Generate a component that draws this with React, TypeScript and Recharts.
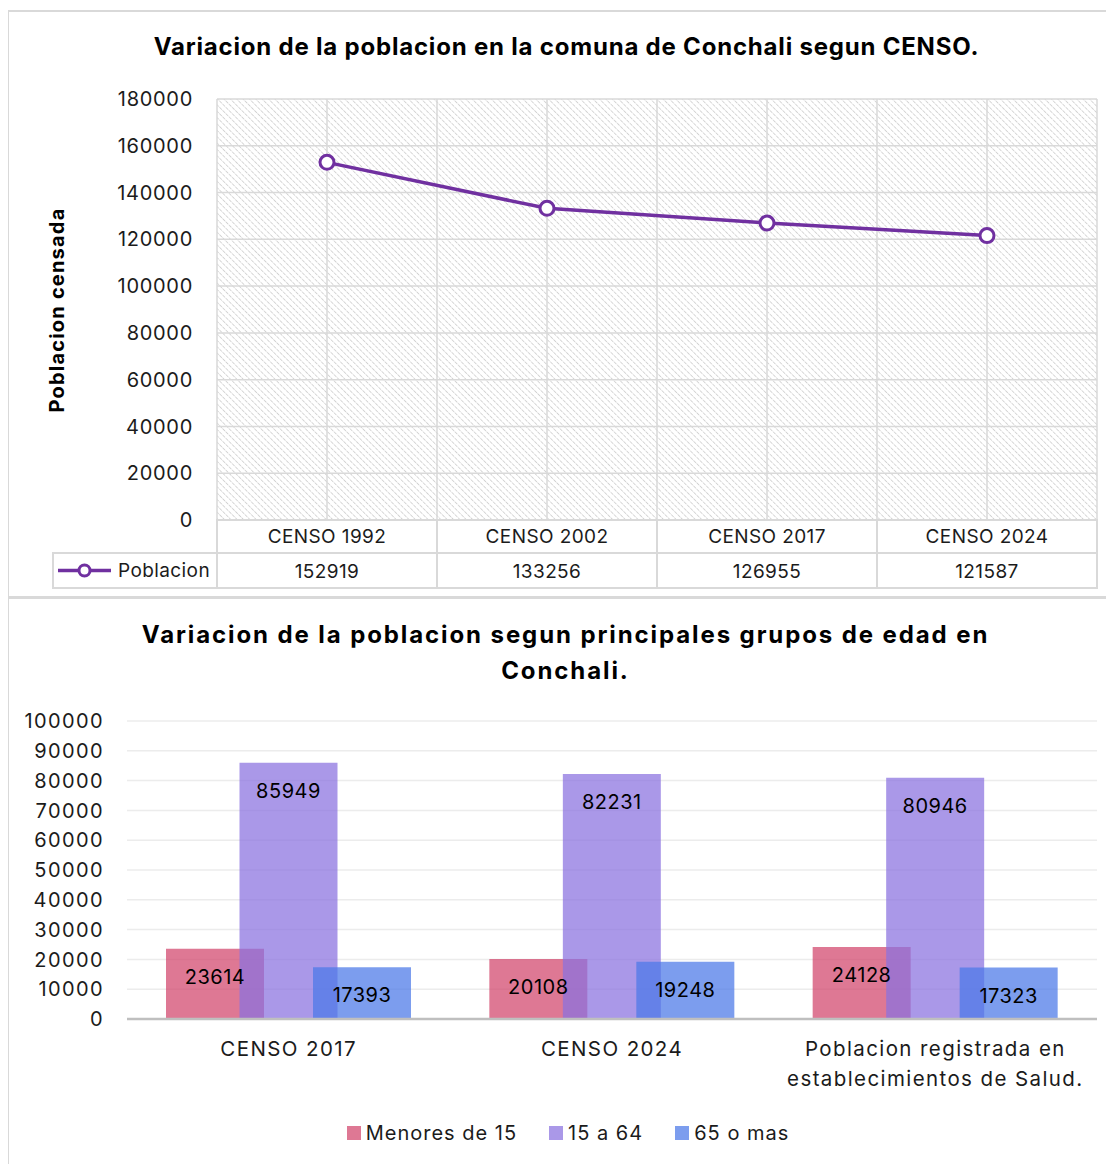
import React from 'react';
import { LineChart, Line, XAxis, YAxis, CartesianGrid, BarChart, Bar, LabelList, Legend } from 'recharts';

// top chart: census totals
const censusLabels = ['CENSO 1992', 'CENSO 2002', 'CENSO 2017', 'CENSO 2024'];
const populationValues = [152919, 133256, 126955, 121587];
const populationTicks = [0, 20000, 40000, 60000, 80000, 100000, 120000, 140000, 160000, 180000];

// bottom chart: age groups
const groupCategories = ['CENSO 2017', 'CENSO 2024', 'Poblacion registrada en establecimientos de Salud.'];
const under15 = [23614, 20108, 24128];
const age15to64 = [85949, 82231, 80946];
const over65 = [17393, 19248, 17323];
const groupTicks = [0, 10000, 20000, 30000, 40000, 50000, 60000, 70000, 80000, 90000, 100000];
const groupSeries = [
  { key: 'under15', name: 'Menores de 15', color: '#D2466C' },
  { key: 'adults', name: '15 a 64', color: '#8A72DF' },
  { key: 'over65', name: '65 o mas', color: '#4B78E8' },
];

const lineData = censusLabels.map((label, i) => ({ label, value: populationValues[i] }));
const barData = groupCategories.map((name, i) => ({
  name,
  under15: under15[i],
  adults: age15to64[i],
  over65: over65[i],
}));

const FONT = 'Inter, "Noto Sans", sans-serif';
const INK = '#1b1b1b';
const BORDER = '#d9d9d9';
const PURPLE = '#7030A0';
const BAR_OPACITY = 0.73;

const TOP_W = 1100;
const TOP_H = 587;
const TOP_PLOT_W = 880;
const CELL_W = TOP_PLOT_W / censusLabels.length;
const ROW1 = 33;
const ROW2 = 35;
const LEGEND_CELL_W = 164;
const MAX_LINE_CHARS = 26;

// greedy word wrap by character count (Text's own measuring is unreliable here)
function wrapWords(s: string, max: number) {
  const lines: string[] = [];
  let cur = '';
  s.split(' ').forEach((w) => {
    const next = cur ? cur + ' ' + w : w;
    if (next.length > max && cur) {
      lines.push(cur);
      cur = w;
    } else {
      cur = next;
    }
  });
  if (cur) lines.push(cur);
  return lines;
}

function TableTick(props: any) {
  const { x, y, index } = props;
  const left = x - CELL_W / 2;
  const txt = { fontSize: 19, fill: INK, fontFamily: FONT, style: { letterSpacing: 0.4 } };
  return (
    <g>
      <rect x={left} y={y} width={CELL_W} height={ROW1} fill="#fff" stroke={BORDER} strokeWidth={2} />
      <rect x={left} y={y + ROW1} width={CELL_W} height={ROW2} fill="#fff" stroke={BORDER} strokeWidth={2} />
      <text x={x} y={y + ROW1 / 2} textAnchor="middle" dominantBaseline="central" {...txt}>
        {censusLabels[index]}
      </text>
      <text x={x} y={y + ROW1 + ROW2 / 2 + 1} textAnchor="middle" dominantBaseline="central" {...txt}>
        {populationValues[index]}
      </text>
      {index === 0 && (
        <g>
          <rect x={left - LEGEND_CELL_W} y={y + ROW1} width={LEGEND_CELL_W} height={ROW2} fill="#fff" stroke={BORDER} strokeWidth={2} />
          <line x1={left - LEGEND_CELL_W + 5} x2={left - LEGEND_CELL_W + 58} y1={y + ROW1 + ROW2 / 2} y2={y + ROW1 + ROW2 / 2} stroke={PURPLE} strokeWidth={3.5} />
          <circle cx={left - LEGEND_CELL_W + 31.5} cy={y + ROW1 + ROW2 / 2} r={5.5} fill="#fff" stroke={PURPLE} strokeWidth={3} />
          <text x={left - LEGEND_CELL_W + 65} y={y + ROW1 + ROW2 / 2} dominantBaseline="central" {...txt}>
            Poblacion
          </text>
        </g>
      )}
    </g>
  );
}

function GroupTick(props: any) {
  const { x, y, payload } = props;
  const lines = wrapWords(String(payload.value), MAX_LINE_CHARS);
  return (
    <text x={x} y={y + 30} textAnchor="middle" fontSize={20.5} fill={INK} fontFamily={FONT} style={{ letterSpacing: 1.4 }}>
      {lines.map((l, i) => (
        <tspan key={i} x={x} dy={i === 0 ? '0.35em' : 30}>
          {l}
        </tspan>
      ))}
    </text>
  );
}

function GroupLegend() {
  return (
    <div style={{ display: 'flex', justifyContent: 'center', alignItems: 'center', height: 30, fontFamily: FONT, fontSize: 20, color: INK, letterSpacing: 1 }}>
      {groupSeries.map((s) => (
        <div key={s.key} style={{ display: 'flex', alignItems: 'center', margin: '0 16px' }}>
          <span style={{ width: 14, height: 14, background: s.color, opacity: BAR_OPACITY, marginRight: 5 }} />
          <span>{s.name}</span>
        </div>
      ))}
    </div>
  );
}

const boxStyle: React.CSSProperties = {
  position: 'absolute', left: 0, border: `2px solid ${BORDER}`, boxSizing: 'border-box', background: '#fff',
};

export default function App() {
  return (
    <div style={{ position: 'relative', top: 2, left: -1, width: 1130, height: 1160, overflow: 'hidden', fontFamily: FONT }}>
      <style>{'html,body{overflow:hidden}'}</style>
      <div style={{ ...boxStyle, top: 0, width: 1130, height: TOP_H + 1 }} />
      <div style={{ ...boxStyle, top: TOP_H, width: 1130, height: 600 }} />

      <div style={{ position: 'absolute', top: 22, left: 0, width: 1119, textAlign: 'center', fontSize: 24, fontWeight: 700, color: '#000', letterSpacing: 0.8 }}>
        Variacion de la poblacion en la comuna de Conchali segun CENSO.
      </div>
      <div style={{ position: 'absolute', left: 50, top: 300, transform: 'translate(-50%, -50%) rotate(-90deg)', whiteSpace: 'nowrap', fontSize: 20, fontWeight: 700, color: '#000', letterSpacing: 1.2 }}>
        Poblacion censada
      </div>

      <div style={{ position: 'absolute', top: 0, left: 0 }}>
        <LineChart width={TOP_W} height={TOP_H} data={lineData} margin={{ top: 89, right: 10, bottom: 9, left: 150 }}>
          <defs>
            <pattern id="hatch" patternUnits="userSpaceOnUse" width={4.5} height={4.5} patternTransform="rotate(-45)">
              <line x1={0} y1={0} x2={0} y2={4.5} stroke="#cdcdcd" strokeWidth={1.6} strokeDasharray="2 1" />
            </pattern>
          </defs>
          <CartesianGrid
            fill="url(#hatch)"
            fillOpacity={1}
            stroke={BORDER}
            strokeWidth={1.5}
            verticalCoordinatesGenerator={({ offset }: any) =>
              Array.from({ length: censusLabels.length * 2 + 1 }, (_, i) => offset.left + (i * offset.width) / (censusLabels.length * 2))
            }
          />
          <XAxis
            dataKey="label"
            axisLine={false}
            tickLine={false}
            tickSize={0}
            tickMargin={0}
            height={ROW1 + ROW2}
            interval={0}
            padding={{ left: CELL_W / 2, right: CELL_W / 2 }}
            tick={(p: any) => <TableTick {...p} />}
          />
          <YAxis
            width={60}
            domain={[0, 180000]}
            ticks={populationTicks}
            axisLine={false}
            tickLine={false}
            tickSize={0}
            tickMargin={24}
            tick={{ fill: INK, fontSize: 20, fontFamily: FONT, letterSpacing: 0.7 } as any}
          />
          <Line
            dataKey="value"
            stroke={PURPLE}
            strokeWidth={3.5}
            dot={{ r: 7, fill: '#fff', stroke: PURPLE, strokeWidth: 3 }}
            isAnimationActive={false}
          />
        </LineChart>
      </div>

      <div style={{ position: 'absolute', top: 607, left: 0, width: 1117, textAlign: 'center', fontSize: 24, fontWeight: 700, color: '#000', letterSpacing: 1.9, lineHeight: '36px' }}>
        Variacion de la poblacion segun principales grupos de edad en
        <br />
        Conchali.
      </div>

      <div style={{ position: 'absolute', top: 690, left: 0 }}>
        <BarChart width={1122} height={470} data={barData} margin={{ top: 21, right: 32, bottom: 41, left: 50 }} barSize={98} barGap={-24.5}>
          <CartesianGrid vertical={false} stroke="#ececec" strokeWidth={1.5} />
          <XAxis
            dataKey="name"
            axisLine={{ stroke: '#bfbfbf', strokeWidth: 2.5 }}
            tickLine={false}
            tickSize={0}
            tickMargin={0}
            height={80}
            interval={0}
            tick={(p: any) => <GroupTick {...p} />}
          />
          <YAxis
            width={70}
            domain={[0, 100000]}
            ticks={groupTicks}
            axisLine={false}
            tickLine={false}
            tickSize={0}
            tickMargin={23}
            tick={{ fill: INK, fontSize: 20, fontFamily: FONT, letterSpacing: 1.4 } as any}
          />
          <Legend verticalAlign="bottom" wrapperStyle={{ left: 0, width: 1122, bottom: 22 }} content={() => <GroupLegend />} />
          {groupSeries.map((s) => (
            <Bar key={s.key} dataKey={s.key} name={s.name} fill={s.color} fillOpacity={BAR_OPACITY} isAnimationActive={false}>
              <LabelList dataKey={s.key} position="insideTop" offset={21} fill="#000" fontSize={20} fontFamily={FONT} style={{ letterSpacing: 0.5 }} />
            </Bar>
          ))}
        </BarChart>
      </div>
    </div>
  );
}
